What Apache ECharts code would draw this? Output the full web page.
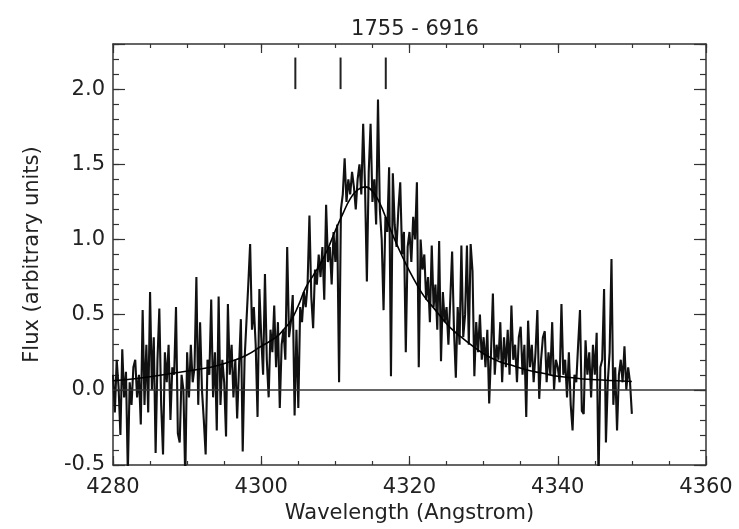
<!DOCTYPE html>
<html>
<head>
<meta charset="utf-8">
<script src="https://cdn.jsdelivr.net/npm/echarts@6/dist/echarts.min.js"></script>
<style>html,body{margin:0;padding:0;background:#fff;}#c{width:739px;height:529px;}</style>
</head>
<body>
<div id="c"></div>
<script>
// ---- data ----
const titleText = '1755 - 6916';
const xName = 'Wavelength (Angstrom)';
const yName = 'Flux (arbitrary units)';
const xMin = 4280, xMax = 4360, xStep = 20, xMinorStep = 5;
const yMin = -0.5, yMax = 2.3, yStep = 0.5, yMinorStep = 0.1;
const specStart = 4280, specStep = 0.25;
const specFlux = [
  0.10,-0.15,0.20,0.02,-0.30,0.27,-0.05,0.12,-0.55,0.05,-0.10,0.15,0.20,-0.05,0.10,-0.23,0.53,-0.10,0.30,-0.15,
  0.65,0.00,0.35,-0.42,0.20,0.54,-0.10,-0.43,0.25,0.05,0.30,-0.20,0.15,0.10,0.55,-0.29,-0.35,0.10,0.00,-0.60,
  0.25,-0.05,0.30,0.05,0.15,0.75,-0.10,0.45,0.00,-0.20,-0.43,0.20,0.10,0.60,-0.05,0.25,-0.27,0.62,-0.10,0.20,
  0.05,-0.31,0.57,0.10,0.30,-0.05,0.20,-0.19,0.15,0.47,-0.41,0.20,0.45,0.70,0.97,0.40,0.55,0.30,-0.18,0.67,
  0.35,0.10,0.77,0.20,-0.05,0.40,0.25,0.56,0.15,0.45,-0.12,0.30,0.40,0.20,0.95,0.35,0.45,0.63,-0.17,0.40,
  -0.12,0.55,0.45,0.65,0.55,0.70,1.16,0.62,0.41,0.80,0.70,0.90,0.75,0.95,0.60,1.23,0.85,0.95,0.70,1.05,
  0.85,1.10,0.05,1.20,1.30,1.54,1.25,1.40,1.30,1.45,1.35,1.20,1.40,1.50,1.30,1.77,1.35,0.72,1.45,1.77,
  1.25,1.40,1.10,1.93,1.20,1.00,0.53,1.15,1.05,1.48,0.09,1.44,1.10,0.95,1.20,1.38,0.90,1.05,0.25,0.95,
  1.05,0.85,1.15,1.00,1.38,0.15,1.00,0.80,0.90,0.60,0.75,0.45,0.96,0.55,0.70,0.40,0.99,0.19,0.65,0.45,
  0.55,0.30,0.60,0.92,0.40,0.08,0.55,0.30,0.96,0.35,0.50,0.96,0.30,0.97,0.79,0.09,0.45,0.25,0.50,0.20,
  0.35,0.15,0.40,-0.09,0.25,0.64,0.10,0.30,0.20,0.45,0.05,0.35,0.15,0.40,0.10,0.56,0.20,0.30,0.05,0.35,
  0.42,0.10,0.30,-0.18,0.46,0.15,0.30,0.05,0.25,0.53,-0.06,0.20,0.35,0.39,0.05,0.25,0.10,0.45,0.00,0.20,
  0.15,0.05,0.57,0.10,0.20,-0.05,0.25,-0.10,-0.27,0.10,0.05,0.30,0.53,-0.14,-0.16,0.33,0.10,0.25,-0.05,0.30,
  0.10,0.38,-0.60,0.15,0.20,0.67,-0.35,0.05,0.25,0.87,-0.10,0.15,-0.27,0.10,0.20,0.05,0.29,0.00,0.15,0.05,-0.16
];
const fitWave = [4280,4284,4288,4292,4294,4296,4298,4300,4302,4303,4304,4305,4306,4307,4308,4309,4310,4311,4312,4313,4314,4315,4316,4317,4318,4319,4320,4321,4322,4323,4324,4325,4326,4327,4328,4330,4332,4334,4336,4338,4340,4342,4344,4346,4348,4350];
const fitFlux = [0.06,0.08,0.11,0.14,0.16,0.19,0.23,0.29,0.35,0.40,0.46,0.56,0.68,0.76,0.84,0.94,1.06,1.17,1.27,1.33,1.35,1.32,1.24,1.12,1.00,0.89,0.79,0.70,0.62,0.56,0.50,0.44,0.39,0.35,0.31,0.24,0.19,0.16,0.13,0.11,0.09,0.08,0.07,0.065,0.06,0.055];
const markerWave = [4304.6, 4310.7, 4316.8];
const markerLow = 2.0, markerHigh = 2.21;

// ---- build chart ----
const specData = specFlux.map((v, i) => [specStart + i * specStep, v]);
const fitData = fitWave.map((w, i) => [w, fitFlux[i]]);
const FONT = 'DejaVu Sans';
const axisCol = '#333';
const txtCol = '#222';

const markerSeries = markerWave.map(w => ({
  type: 'line', data: [[w, markerLow], [w, markerHigh]], symbol: 'none',
  lineStyle: { color: '#222', width: 2 }, silent: true, z: 5
}));

const xAxisMake = (pos, interval, tickLen, labels, lineShow) => ({
  type: 'value', position: pos, min: xMin, max: xMax, interval: interval,
  axisLine: { show: lineShow, onZero: false, lineStyle: { color: axisCol, width: 1.5 } },
  axisTick: { show: true, inside: true, length: tickLen, lineStyle: { color: axisCol, width: 1.2 } },
  axisLabel: labels ? { show: true, fontFamily: FONT, fontSize: 21, color: txtCol, margin: 12,
    formatter: v => String(Math.round(v)) } : { show: false },
  splitLine: { show: false }
});
const fmtY = v => (Math.abs(v * 2 - Math.round(v * 2)) < 1e-6 && v < 2.05) ? v.toFixed(1) : '';
const yAxisMake = (pos, interval, tickLen, labels, lineShow) => ({
  type: 'value', position: pos, min: yMin, max: yMax, interval: interval,
  axisLine: { show: lineShow, onZero: false, lineStyle: { color: axisCol, width: 1.5 } },
  axisTick: { show: true, inside: true, length: tickLen, lineStyle: { color: axisCol, width: 1.2 } },
  axisLabel: labels ? { show: true, formatter: fmtY, fontFamily: FONT, fontSize: 21, color: txtCol, margin: 8 } : { show: false },
  splitLine: { show: false }
});

const xBottom = xAxisMake('bottom', xStep, 9, true, true);
Object.assign(xBottom, { name: xName, nameLocation: 'middle', nameGap: 38,
  nameTextStyle: { fontFamily: FONT, fontSize: 21, color: txtCol } });
const yLeft = yAxisMake('left', yStep, 12, true, true);
Object.assign(yLeft, { name: yName, nameLocation: 'middle', nameGap: 70, nameRotate: 90,
  nameTextStyle: { fontFamily: FONT, fontSize: 21, color: txtCol } });

const chart = echarts.init(document.getElementById('c'), null, { renderer: 'canvas' });
chart.setOption({
  animation: false,
  backgroundColor: '#fff',
  title: { text: titleText, left: 410, top: 14, textAlign: 'center',
    textStyle: { fontFamily: FONT, fontSize: 21, fontWeight: 'normal', color: txtCol } },
  grid: { left: 113, right: 33, top: 44, bottom: 64, containLabel: false },
  xAxis: [
    xBottom,
    xAxisMake('bottom', xMinorStep, 4, false, false),
    xAxisMake('top', xStep, 9, false, true),
    xAxisMake('top', xMinorStep, 4, false, false)
  ],
  yAxis: [
    yLeft,
    yAxisMake('left', yMinorStep, 6, false, false),
    yAxisMake('right', yStep, 12, false, true),
    yAxisMake('right', yMinorStep, 6, false, false)
  ],
  series: [
    {
      type: 'line', data: specData, symbol: 'none',
      lineStyle: { color: '#111', width: 2.1 }, z: 3, clip: true,
      markLine: { silent: true, symbol: 'none', label: { show: false },
        lineStyle: { color: '#333', width: 1.5, type: 'solid' }, data: [{ yAxis: 0 }] }
    },
    {
      type: 'line', data: fitData, symbol: 'none', smooth: true,
      lineStyle: { color: '#000', width: 1.6 }, z: 4
    }
  ].concat(markerSeries)
});
</script>
</body>
</html>
